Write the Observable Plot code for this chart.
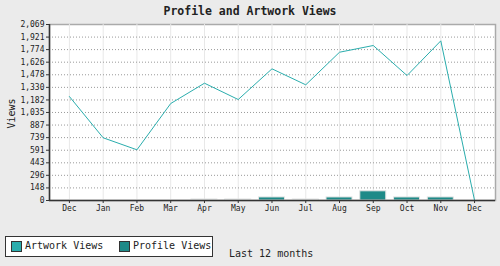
<!DOCTYPE html>
<html>
<head>
<meta charset="utf-8">
<script src="https://cdn.jsdelivr.net/npm/d3@7"></script>
<script src="https://cdn.jsdelivr.net/npm/@observablehq/plot@0.6"></script>
<style>
  html, body { margin: 0; padding: 0; background: #ebebeb; }
  #wrap { position: relative; width: 500px; height: 266px; overflow: hidden; font-family: "DejaVu Sans Mono", monospace; color: #222; }
  #title { position: absolute; left: 0; top: 4px; width: 500px; text-align: center; font-weight: bold; font-size: 11.5px; line-height: 14px; }
  #legend { position: absolute; left: 5px; top: 236px; width: 206px; height: 19px; border: 1px solid #333; background: #fff; font-size: 10px; }
  .item { position: absolute; top: 4px; height: 11px; line-height: 11px; }
  .sw { position: absolute; top: 0; left: 0; width: 9px; height: 9px; border: 1px solid #333; }
  .lab { position: absolute; left: 14px; top: -1px; white-space: nowrap; }
  #caption { position: absolute; left: 229px; top: 248px; font-size: 10px; line-height: 12px; }
</style>
</head>
<body>
<div id="wrap">
  <div id="chart"></div>
  <div id="title"></div>
  <div id="legend"></div>
  <div id="caption"></div>
</div>
<script>
const titleText = "Profile and Artwork Views";
const captionText = "Last 12 months";
const yLabel = "Views";
const months = ["Dec","Jan","Feb","Mar","Apr","May","Jun","Jul","Aug","Sep","Oct","Nov","Dec"];
const artworkViews = [1222, 737, 596, 1140, 1379, 1187, 1548, 1360, 1743, 1822, 1469, 1877, 0];
const profileViews = [0, 0, 0, 0, 12, 12, 36, 12, 36, 108, 36, 36, 0];
const yTicks = [0, 148, 296, 443, 591, 739, 887, 1035, 1182, 1330, 1478, 1626, 1774, 1921, 2069];
const seriesNames = ["Artwork Views", "Profile Views"];
const seriesColors = ["#2aadad", "#1e8a88"];

const idx = months.map((_, i) => i);
const rows = idx.map(i => ({i, month: months[i], artwork: artworkViews[i], profile: profileViews[i]}));
const yMax = yTicks[yTicks.length - 1];
const xLo = -0.59, xHi = 12.62;
const halfBar = 0.385;

const chart = Plot.plot({
  width: 500,
  height: 266,
  marginLeft: 49,
  marginRight: 5,
  marginTop: 24,
  marginBottom: 66,
  style: {background: "transparent", fontFamily: "DejaVu Sans Mono, monospace", fontSize: "8px", color: "#222"},
  x: {type: "linear", domain: [xLo, xHi], label: null},
  y: {domain: [0, yMax], label: null},
  marks: [
    Plot.frame({fill: "white", stroke: "#aaa", strokeWidth: 1.5}),
    Plot.ruleX(idx, {stroke: "#e8e8e8", strokeWidth: 1}),
    Plot.ruleY(yTicks.filter(v => v > 0 && v < yMax), {stroke: "#999", strokeDasharray: "1,2", strokeWidth: 1}),
    Plot.rectY(rows, {x1: d => d.i - halfBar, x2: d => d.i + halfBar, y1: 0, y2: "profile", fill: seriesColors[1], stroke: "#e4e4e4", strokeWidth: 1}),
    Plot.line(rows, {x: "i", y: "artwork", stroke: seriesColors[0], strokeWidth: 1}),
    Plot.ruleX([xLo], {stroke: "#333", strokeWidth: 1.5}),
    Plot.ruleY([0], {stroke: "#333", strokeWidth: 1.5}),
    Plot.axisX({ticks: idx, tickFormat: i => months[i], tickSize: 3, tickPadding: 2, stroke: "#333", fontSize: 8, label: null}),
    Plot.axisY({ticks: yTicks, tickFormat: d3.format(","), tickSize: 3, tickPadding: 2, stroke: "#333", fontSize: 8, label: null}),
    Plot.text([yLabel], {frameAnchor: "left", textAnchor: "middle", dx: -37.5, dy: 1, rotate: -90, fontSize: 10, fill: "#222", text: d => d})
  ]
});
document.getElementById("chart").appendChild(chart);

document.getElementById("title").textContent = titleText;
document.getElementById("caption").textContent = captionText;
const legend = document.getElementById("legend");
const offsets = [5, 113];
seriesNames.forEach((name, k) => {
  const item = document.createElement("div");
  item.className = "item";
  item.style.left = offsets[k] + "px";
  const sw = document.createElement("div");
  sw.className = "sw";
  sw.style.background = seriesColors[k];
  const lab = document.createElement("div");
  lab.className = "lab";
  lab.textContent = name;
  item.appendChild(sw);
  item.appendChild(lab);
  legend.appendChild(item);
});
</script>
</body>
</html>
